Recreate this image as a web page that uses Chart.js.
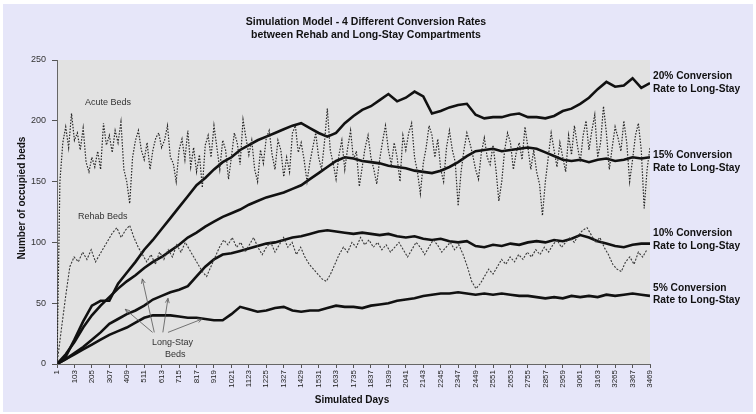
<!DOCTYPE html>
<html><head><meta charset="utf-8">
<script src="https://cdn.jsdelivr.net/npm/chart.js@4/dist/chart.umd.min.js"></script>
<style>html,body{margin:0;padding:0;background:#fff;}canvas{display:block;}</style>
</head><body>
<canvas id="c" width="756" height="414"></canvas>
<script>
// ---- data ----
const xTickLabels = [1,103,205,307,409,511,613,715,817,919,1021,1123,1225,1327,1429,1531,1633,1735,1837,1939,2041,2143,2245,2347,2449,2551,2653,2755,2857,2959,3061,3163,3265,3367,3469];
const yTickLabels = [0,50,100,150,200,250];
const longStayStep = 51;   // sampling interval (days) of the long-stay curves
const acuteStep = 17;      // sampling interval (days) of the acute curve
const rehabStep = 25;      // sampling interval (days) of the rehab curve

const longStay20 = [0,6,20,35,48,52,52,66,75,84,94,
  102,111,120,129,138,147,153,160,166,170,
  176,180,184,187,190,193,196,198,194,190,
  187,190,198,204,209,212,217,222,216,219,
  224,220,206,208,211,213,214,205,202,203,
  203,205,206,203,203,202,204,208,210,214,
  219,226,232,228,229,235,227,231];
const longStay15 = [0,8,18,30,40,48,55,62,68,73,79,
  84,88,93,98,104,108,113,117,121,124,
  127,131,134,137,139,141,144,147,152,157,
  162,167,170,169,167,166,165,163,162,161,
  159,158,157,159,162,166,171,175,176,177,
  175,176,177,178,177,174,171,168,167,168,
  166,168,169,167,168,170,169,170];
const longStay10 = [0,4,9,14,20,26,33,37,41,44,48,
  53,56,59,61,64,72,80,86,90,91,
  93,95,97,99,100,102,104,105,107,109,
  110,109,108,107,108,107,106,107,105,104,
  105,103,102,103,101,100,101,97,96,98,
  97,99,98,100,101,100,102,101,103,106,
  104,101,99,97,96,98,99,99];
const longStay5 = [0,4,8,12,16,20,24,27,30,34,38,
  40,40,40,39,38,38,37,36,36,41,
  47,45,43,44,46,47,44,43,44,44,
  46,48,47,47,46,48,49,50,52,53,
  54,56,57,58,58,59,58,57,58,57,
  58,57,56,56,55,54,55,54,56,55,
  56,55,57,56,57,58,57,56];
const acuteBeds = [0,150,182,195,178,206,184,190,176,194,
  166,158,170,162,175,160,198,180,188,174,
  192,182,199,160,150,132,170,184,192,176,
  168,182,160,176,186,190,178,184,196,170,
  165,150,176,185,168,192,162,178,158,172,
  145,180,188,170,196,178,160,184,176,152,
  170,190,182,164,201,186,172,184,160,150,
  176,165,186,192,172,160,184,176,154,170,
  158,190,196,174,182,168,150,166,178,190,
  170,160,182,210,176,165,152,172,184,160,
  178,192,168,175,146,162,178,188,170,160,
  148,168,183,196,176,164,182,170,150,188,
  176,190,198,170,158,140,165,178,196,188,
  170,185,160,150,178,192,176,166,130,158,
  176,190,182,172,160,152,174,186,170,164,
  180,160,134,150,176,190,182,160,174,182,
  168,195,178,160,176,158,148,122,150,170,
  190,176,162,182,170,158,188,172,196,180,
  166,188,200,176,192,205,170,182,212,190,
  160,178,195,186,175,200,182,150,168,188,
  198,176,128,160,178];
const rehabBeds = [0,28,55,80,88,84,92,86,94,84,
  90,96,102,108,112,104,110,114,104,96,
  90,84,90,82,92,86,94,88,98,92,
  100,94,88,82,76,72,80,88,96,102,
  98,104,96,100,92,98,104,96,90,96,
  100,92,98,104,96,100,90,96,88,82,
  78,74,70,68,74,82,90,96,92,100,
  96,104,98,102,96,100,94,98,92,96,
  100,94,88,94,100,96,90,96,102,98,
  92,96,100,94,98,90,80,68,62,66,
  72,78,74,80,86,82,88,84,90,86,
  92,88,94,90,96,92,98,102,96,100,
  104,100,106,110,112,106,100,104,96,90,
  82,78,76,84,88,82,92,88,94];

const seriesLabels = [
  ["20% Conversion","Rate to Long-Stay"],
  ["15% Conversion","Rate to Long-Stay"],
  ["10% Conversion","Rate to Long-Stay"],
  ["5% Conversion","Rate to Long-Stay"]
];

// ---- build datasets ----
const toPts = (arr, step) => arr.map((v, i) => ({x: 1 + i * step, y: v}));
const thick = (label, arr) => ({label, data: toPts(arr, longStayStep), borderColor:'#111', borderWidth:2.6, pointRadius:0, tension:0});
const datasets = [
  {label:'Acute Beds', data: toPts(acuteBeds, acuteStep), borderColor:'#262626', borderWidth:1.2, borderDash:[1.5,1.5], pointRadius:0, tension:0},
  {label:'Rehab Beds', data: toPts(rehabBeds, rehabStep), borderColor:'#383838', borderWidth:1.1, borderDash:[2,1.5], pointRadius:0, tension:0},
  thick('20%', longStay20), thick('15%', longStay15), thick('10%', longStay10), thick('5%', longStay5)
];

const FONT = '"Liberation Sans", Arial, sans-serif';

const decor = {
  id:'decor',
  beforeDraw(chart){
    const {ctx, chartArea:a} = chart;
    ctx.save();
    ctx.fillStyle='#fff'; ctx.fillRect(0,0,chart.width,chart.height);
    ctx.fillStyle='#e6e6f9'; ctx.fillRect(3,4,750,408);
    ctx.fillStyle='#e2e2e2'; ctx.fillRect(a.left,a.top,a.right-a.left,a.bottom-a.top);
    ctx.restore();
  },
  afterDraw(chart){
    const {ctx, scales:{x,y}} = chart;
    ctx.save();
    ctx.fillStyle='#111';
    ctx.textBaseline='middle';
    ctx.textAlign='center';
    ctx.font='bold 10.5px '+FONT;
    ctx.fillText('Simulation Model - 4 Different Conversion Rates', 366, 22);
    ctx.fillText('between Rehab and Long-Stay Compartments', 366, 35);
    ctx.font='bold 10px '+FONT;
    ctx.fillText('Simulated Days', 352, 400);
    ctx.save();
    ctx.translate(22, 198); ctx.rotate(-Math.PI/2);
    ctx.fillText('Number of occupied beds', 0, 0);
    ctx.restore();
    // right labels
    ctx.textAlign='left';
    ctx.font='bold 10.2px '+FONT;
    const ly = [[76,89],[155,168],[233,246],[288,300]];
    seriesLabels.forEach((l,i)=>{ ctx.fillText(l[0], 653, ly[i][0]); ctx.fillText(l[1], 653, ly[i][1]); });
    // annotations
    ctx.font='9px '+FONT;
    ctx.fillStyle='#333';
    ctx.fillText('Acute Beds', 85, 103);
    ctx.fillText('Rehab Beds', 78, 217);
    ctx.fillText('Long-Stay', 152, 343);
    ctx.fillText('Beds', 165, 355);
    // arrows (in data coords)
    const arrows = [[570,26,500,70],[560,26,400,45],[620,26,650,54],[650,26,850,37]];
    ctx.strokeStyle='#555'; ctx.lineWidth=0.8;
    arrows.forEach(([d0,v0,d1,v1])=>{
      const x0=x.getPixelForValue(d0), y0=y.getPixelForValue(v0), x1=x.getPixelForValue(d1), y1=y.getPixelForValue(v1);
      ctx.beginPath(); ctx.moveTo(x0,y0); ctx.lineTo(x1,y1); ctx.stroke();
      const ang=Math.atan2(y1-y0,x1-x0);
      ctx.beginPath();
      ctx.moveTo(x1,y1); ctx.lineTo(x1-5*Math.cos(ang-0.4), y1-5*Math.sin(ang-0.4));
      ctx.moveTo(x1,y1); ctx.lineTo(x1-5*Math.cos(ang+0.4), y1-5*Math.sin(ang+0.4));
      ctx.stroke();
    });
    ctx.restore();
  }
};

new Chart(document.getElementById('c'), {
  type:'line',
  data:{datasets},
  options:{
    responsive:false, animation:false, devicePixelRatio:1,
    layout:{padding:{top:60,right:106,left:0,bottom:0}},
    plugins:{legend:{display:false}, title:{display:false}, tooltip:{enabled:false}},
    scales:{
      x:{type:'linear', min:1, max:3469,
        afterBuildTicks:(s)=>{ s.ticks = xTickLabels.map(v=>({value:v})); },
        afterFit:(s)=>{ s.height = 50; },
        ticks:{autoSkip:false, minRotation:90, maxRotation:90, padding:2, color:'#222', font:{family:FONT, size:8}, callback:(v)=>String(v)},
        grid:{drawOnChartArea:false, tickLength:4, color:'#555'},
        border:{display:true, color:'#666', width:1}
      },
      y:{min:0, max:250,
        afterBuildTicks:(s)=>{ s.ticks = yTickLabels.map(v=>({value:v})); },
        afterFit:(s)=>{ s.width = 57; },
        ticks:{padding:6, color:'#333', font:{family:FONT, size:9}},
        grid:{drawOnChartArea:false, tickLength:5, color:'#555'},
        border:{display:true, color:'#666', width:1}
      }
    }
  },
  plugins:[decor]
});
</script>
</body></html>
